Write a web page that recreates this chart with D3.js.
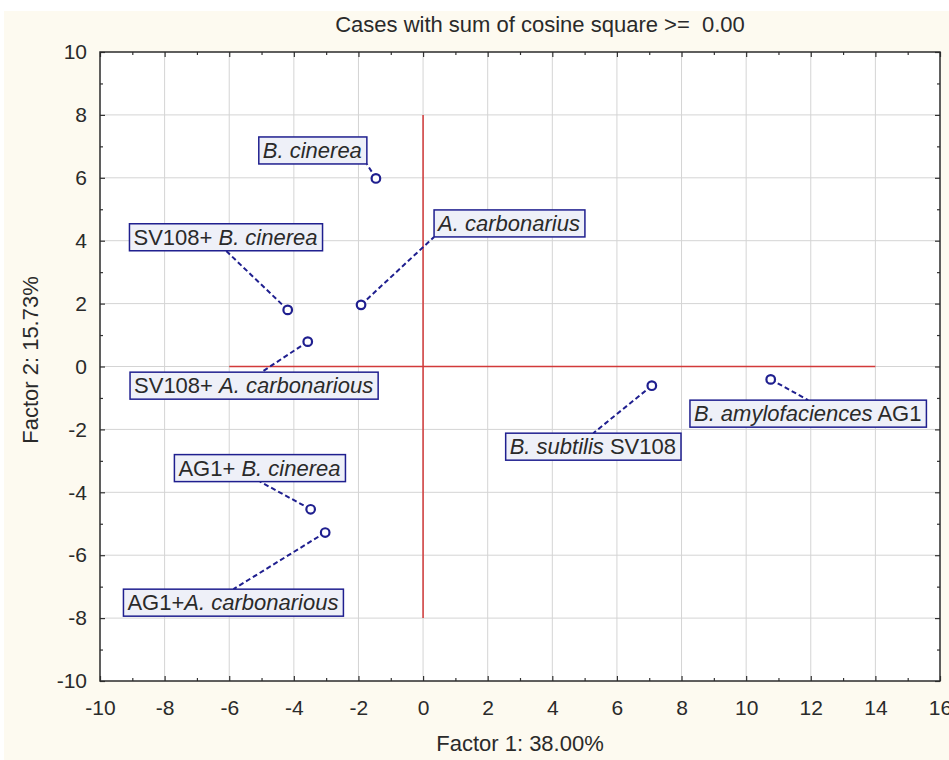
<!DOCTYPE html>
<html>
<head>
<meta charset="utf-8">
<script src="https://cdn.jsdelivr.net/npm/d3@7"></script>
<style>
  html, body { margin: 0; padding: 0; background: #ffffff; }
  svg { display: block; font-family: "Liberation Sans", Arial, sans-serif; }
</style>
</head>
<body>
<svg id="chart" width="949" height="760"></svg>
<script>
// Case labels (<i> marks the italic species names)
const caseLabels = [
  "<i>B. cinerea</i>",
  "<i>A. carbonarius</i>",
  "SV108+ <i>B. cinerea</i>",
  "SV108+ <i>A. carbonarious</i>",
  "AG1+ <i>B. cinerea</i>",
  "AG1+<i>A. carbonarious</i>",
  "<i>B. subtilis</i> SV108",
  "<i>B. amylofaciences</i> AG1"
];
// Factor coordinates of each case
const factor1 = [-1.46, -1.92, -4.19, -3.57, -3.48, -3.03, 7.08, 10.76];
const factor2 = [5.98, 1.96, 1.80, 0.79, -4.54, -5.28, -0.61, -0.41];

const xTicks = [-10, -8, -6, -4, -2, 0, 2, 4, 6, 8, 10, 12, 14, 16];
const yTicks = [-10, -8, -6, -4, -2, 0, 2, 4, 6, 8, 10];
const xMinor = [-9, -7, -5, -3, -1, 1, 3, 5, 7, 9, 11, 13, 15];
const yMinor = [-9, -7, -5, -3, -1, 1, 3, 5, 7, 9];

const titleText = "Cases with sum of cosine square >=  0.00";
const xTitle = "Factor 1: 38.00%";
const yTitle = "Factor 2: 15.73%";

// Where each label's leader line ends (factor units) and which part of the box it meets
const labelEnd = [[-1.74, 6.44], [0.34, 4.12], [-6.10, 3.68], [-5.00, -0.18],
                  [-5.05, -3.66], [-5.87, -7.08], [5.27, -2.12], [11.92, -1.07]];
const labelAlign = [[1, 1], [0, 1], [0.5, 1], [0.53, 0], [0.5, 1], [0.5, 0], [0.5, 0], [0.5, 0]];

// Reference lines through the origin
const hLine = { y: 0, from: -6, to: 14 };
const vLine = { x: 0, from: -8, to: 8 };

const svg = d3.select("#chart");
const W = 949, H = 760;
const L = 100, R = 940, T = 52, B = 681;
const x = d3.scaleLinear().domain([-10, 16]).range([L, R]);
const y = d3.scaleLinear().domain([-10, 10]).range([B, T]);

const ink = "#2a2a2a";
const navy = "#1f1f8f";

// cream panel (thin white margin at the top and left)
svg.append("rect").attr("x", 4).attr("y", 11).attr("width", W - 4).attr("height", H - 11)
  .attr("fill", "#fdfaf0");

// plot background
svg.append("rect").attr("x", L).attr("y", T).attr("width", R - L).attr("height", B - T)
  .attr("fill", "#ffffff");

// grid
const grid = svg.append("g").attr("stroke", "#d4d4d4").attr("stroke-width", 1);
grid.selectAll(".gx").data(xTicks.slice(1, -1)).join("line")
  .attr("x1", d => x(d)).attr("x2", d => x(d)).attr("y1", T).attr("y2", B);
grid.selectAll(".gy").data(yTicks.slice(1, -1)).join("line")
  .attr("y1", d => y(d)).attr("y2", d => y(d)).attr("x1", L).attr("x2", R);

// axes (ticks pointing inward)
const fmt = d => String(d);
function styleAxis(g) {
  g.select(".domain").remove();
  g.selectAll("line").attr("stroke", "#333").attr("stroke-width", 1.2);
  g.selectAll("text").attr("fill", ink).attr("font-size", 21).attr("font-family", null);
}
svg.append("g").attr("transform", `translate(0,${B})`)
  .call(d3.axisBottom(x).tickValues(xTicks).tickSize(-5).tickPadding(19).tickFormat(fmt))
  .call(styleAxis);
svg.append("g").attr("transform", `translate(${L},0)`)
  .call(d3.axisLeft(y).tickValues(yTicks).tickSize(-5).tickPadding(13).tickFormat(fmt))
  .call(styleAxis);
svg.append("g").attr("transform", `translate(0,${T})`)
  .call(d3.axisTop(x).tickValues(xTicks).tickSize(-5).tickFormat(""))
  .call(styleAxis);
svg.append("g").attr("transform", `translate(${R},0)`)
  .call(d3.axisRight(y).tickValues(yTicks).tickSize(-5).tickFormat(""))
  .call(styleAxis);
// minor ticks
svg.append("g").attr("transform", `translate(0,${B})`)
  .call(d3.axisBottom(x).tickValues(xMinor).tickSize(-3).tickFormat("")).call(styleAxis);
svg.append("g").attr("transform", `translate(0,${T})`)
  .call(d3.axisTop(x).tickValues(xMinor).tickSize(-3).tickFormat("")).call(styleAxis);
svg.append("g").attr("transform", `translate(${L},0)`)
  .call(d3.axisLeft(y).tickValues(yMinor).tickSize(-3).tickFormat("")).call(styleAxis);
svg.append("g").attr("transform", `translate(${R},0)`)
  .call(d3.axisRight(y).tickValues(yMinor).tickSize(-3).tickFormat("")).call(styleAxis);

// frame
svg.append("rect").attr("x", L).attr("y", T).attr("width", R - L).attr("height", B - T)
  .attr("fill", "none").attr("stroke", "#2b2b2b").attr("stroke-width", 1.5);

// red reference lines
svg.append("line").attr("x1", x(hLine.from)).attr("x2", x(hLine.to))
  .attr("y1", y(hLine.y)).attr("y2", y(hLine.y))
  .attr("stroke", "#d23a3a").attr("stroke-width", 1.5);
svg.append("line").attr("x1", x(vLine.x)).attr("x2", x(vLine.x))
  .attr("y1", y(vLine.from)).attr("y2", y(vLine.to))
  .attr("stroke", "#d23a3a").attr("stroke-width", 1.5);

// titles
svg.append("text").attr("x", 540).attr("y", 32).attr("text-anchor", "middle")
  .attr("font-size", 22).attr("fill", ink).style("white-space", "pre").text(titleText);
svg.append("text").attr("x", (L + R) / 2).attr("y", 751).attr("text-anchor", "middle")
  .attr("font-size", 22).attr("fill", ink).text(xTitle);
svg.append("text").attr("transform", `translate(38,360) rotate(-90)`).attr("text-anchor", "middle")
  .attr("font-size", 22).attr("fill", ink).text(yTitle);

const cases = caseLabels.map((lab, i) => ({
  label: lab, f1: factor1[i], f2: factor2[i], end: labelEnd[i], align: labelAlign[i]
}));

// leader lines
svg.append("g").selectAll("line").data(cases).join("line")
  .attr("x1", d => x(d.f1)).attr("y1", d => y(d.f2))
  .attr("x2", d => x(d.end[0])).attr("y2", d => y(d.end[1]))
  .attr("stroke", navy).attr("stroke-width", 2).attr("stroke-dasharray", "5,3");

// points
svg.append("g").selectAll("circle").data(cases).join("circle")
  .attr("cx", d => x(d.f1)).attr("cy", d => y(d.f2)).attr("r", 4.3)
  .attr("fill", "#ffffff").attr("stroke", navy).attr("stroke-width", 2.2);

// label boxes
const boxH = 27;
const labels = svg.append("g").selectAll("g").data(cases).join("g");
labels.each(function (d) {
  const g = d3.select(this);
  const rect = g.append("rect");
  const t = g.append("text").attr("font-size", 22).attr("fill", ink).style("white-space", "pre");
  d.label.split(/(<i>.*?<\/i>)/).filter(s => s.length).forEach(s => {
    const it = s.startsWith("<i>");
    t.append("tspan").attr("font-style", it ? "italic" : "normal")
      .text(it ? s.slice(3, -4) : s);
  });
  const w = t.node().getComputedTextLength() + 9;
  const ax = x(d.end[0]), ay = y(d.end[1]);
  const bx = ax - d.align[0] * w, by = ay - d.align[1] * boxH;
  rect.attr("x", bx).attr("y", by).attr("width", w).attr("height", boxH)
    .attr("fill", "#eef0f8").attr("stroke", navy).attr("stroke-width", 1.5);
  t.attr("x", bx + 4).attr("y", by + 21);
});
</script>
</body>
</html>
